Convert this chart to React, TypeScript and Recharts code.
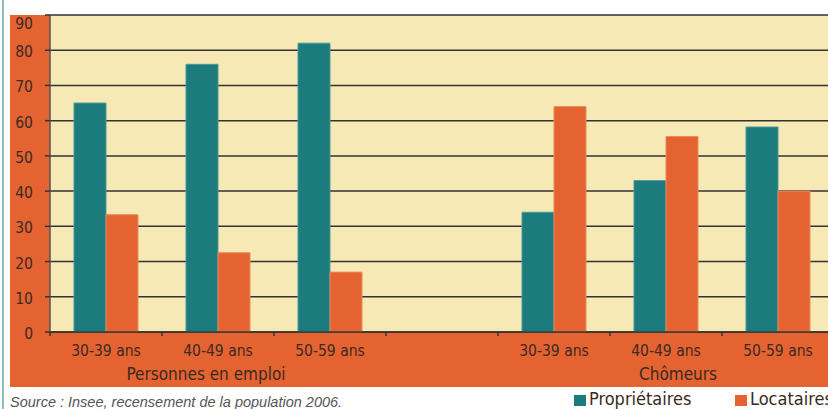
import React from 'react';
import { BarChart, Bar, XAxis, YAxis, CartesianGrid, Legend } from 'recharts';

// age bands, with an empty slot separating the two groups
const categories = ['30-39 ans', '40-49 ans', '50-59 ans', '', '30-39 ans', '40-49 ans', '50-59 ans'];
const proprietaires = [65, 76, 82, null, 34, 43, 58.2];
const locataires = [33.3, 22.5, 17, null, 64, 55.5, 40];
const groups = ['Personnes en emploi', 'Chômeurs'];
const yTicks = [0, 10, 20, 30, 40, 50, 60, 70, 80, 90];

const ORANGE = '#E46331';
const TEAL = '#1B7B7D';
const CREAM = '#F6E9B6';
const INK = '#3a2a22';
const FONT = "'Liberation Sans Narrow', 'DejaVu Sans Condensed', sans-serif";

const data = categories.map((label, i) => ({
  key: `c${i}`,
  label,
  proprietaires: proprietaires[i],
  locataires: locataires[i],
}));

const BAND = 112;

const CategoryTick = (props: any) => {
  const { x, y, index } = props;
  const label = categories[index];
  // group captions sit under the middle band of each group
  const group = index === 1 ? groups[0] : index === 5 ? groups[1] : null;
  return (
    <g>
      <line x1={x - BAND / 2} x2={x - BAND / 2} y1={y} y2={y + 4} stroke="#333" strokeWidth={1.5} />
      <text x={x} y={y + 24} textAnchor="middle" fill={INK} fontSize={15.5} fontFamily={FONT}>
        {label}
      </text>
      {group && (
        <text x={x - (index === 1 ? 12 : -12)} y={y + 48} textAnchor="middle" fill={INK} fontSize={17} fontFamily={FONT}>
          {group}
        </text>
      )}
    </g>
  );
};

const ValueTick = (props: any) => {
  const { x, y, payload } = props;
  const shift = payload.value === 90 ? 14 : 7;
  return (
    <text x={x} y={y + shift} textAnchor="end" fill={INK} fontSize={15.5} fontFamily={FONT}>
      {payload.value}
    </text>
  );
};

const LegendBox = () => (
  <div style={{ display: 'flex', fontFamily: FONT, fontSize: 18, lineHeight: '18px', color: INK, whiteSpace: 'nowrap' }}>
    <div style={{ display: 'flex', alignItems: 'center', width: 161 }}>
      <span style={{ width: 12, height: 11, background: TEAL, marginRight: 3, marginTop: 2 }} />
      Propriétaires
    </div>
    <div style={{ display: 'flex', alignItems: 'center' }}>
      <span style={{ width: 12, height: 11, background: ORANGE, marginRight: 3, marginTop: 2 }} />
      Locataires
    </div>
  </div>
);

export default function App() {
  return (
    <div style={{ position: 'absolute', left: 0, top: 0, width: 828, height: 409, overflow: 'hidden', background: '#fff' }}>
      <div style={{ position: 'absolute', left: 2, top: 0, width: 1.5, height: 409, background: '#8dbfc2' }} />
      <div style={{ position: 'absolute', left: 10, top: 15, width: 830, height: 372, background: ORANGE }} />
      <div
        style={{
          position: 'absolute',
          left: 10,
          top: 394,
          fontFamily: "'Liberation Sans', Arial, sans-serif",
          fontStyle: 'italic',
          fontSize: 14.5,
          color: '#555',
          whiteSpace: 'nowrap',
        }}
      >
        Source : Insee, recensement de la population 2006.
      </div>
      <div style={{ position: 'absolute', left: 0, top: 0 }}>
        <BarChart
          width={840}
          height={409}
          data={data}
          margin={{ top: 15, right: 6, left: 10, bottom: 0 }}
          barGap={0}
          barSize={32}
        >
          <CartesianGrid vertical={false} fill={CREAM} stroke="#333" strokeWidth={1.5} />
          <XAxis
            dataKey="key"
            interval={0}
            tickLine={false}
            tickSize={0}
            tickMargin={0}
            height={55}
            axisLine={{ stroke: '#333', strokeWidth: 1.5 }}
            tick={<CategoryTick />}
          />
          <YAxis
            domain={[0, 90]}
            ticks={yTicks}
            width={40}
            tickSize={5}
            tickMargin={12}
            interval={0}
            axisLine={{ stroke: '#555', strokeWidth: 1.5 }}
            tickLine={{ stroke: '#333', strokeWidth: 1.5 }}
            tick={<ValueTick />}
          />
          <Legend
            content={<LegendBox />}
            height={22}
            wrapperStyle={{ position: 'absolute', left: 574, top: 390, width: 300, bottom: 'auto' }}
          />
          <Bar dataKey="proprietaires" name="Propriétaires" fill={TEAL} stroke="#4f9a98" strokeWidth={1} isAnimationActive={false} />
          <Bar dataKey="locataires" name="Locataires" fill={ORANGE} stroke="#ec8a5e" strokeWidth={1} isAnimationActive={false} />
        </BarChart>
      </div>
    </div>
  );
}
